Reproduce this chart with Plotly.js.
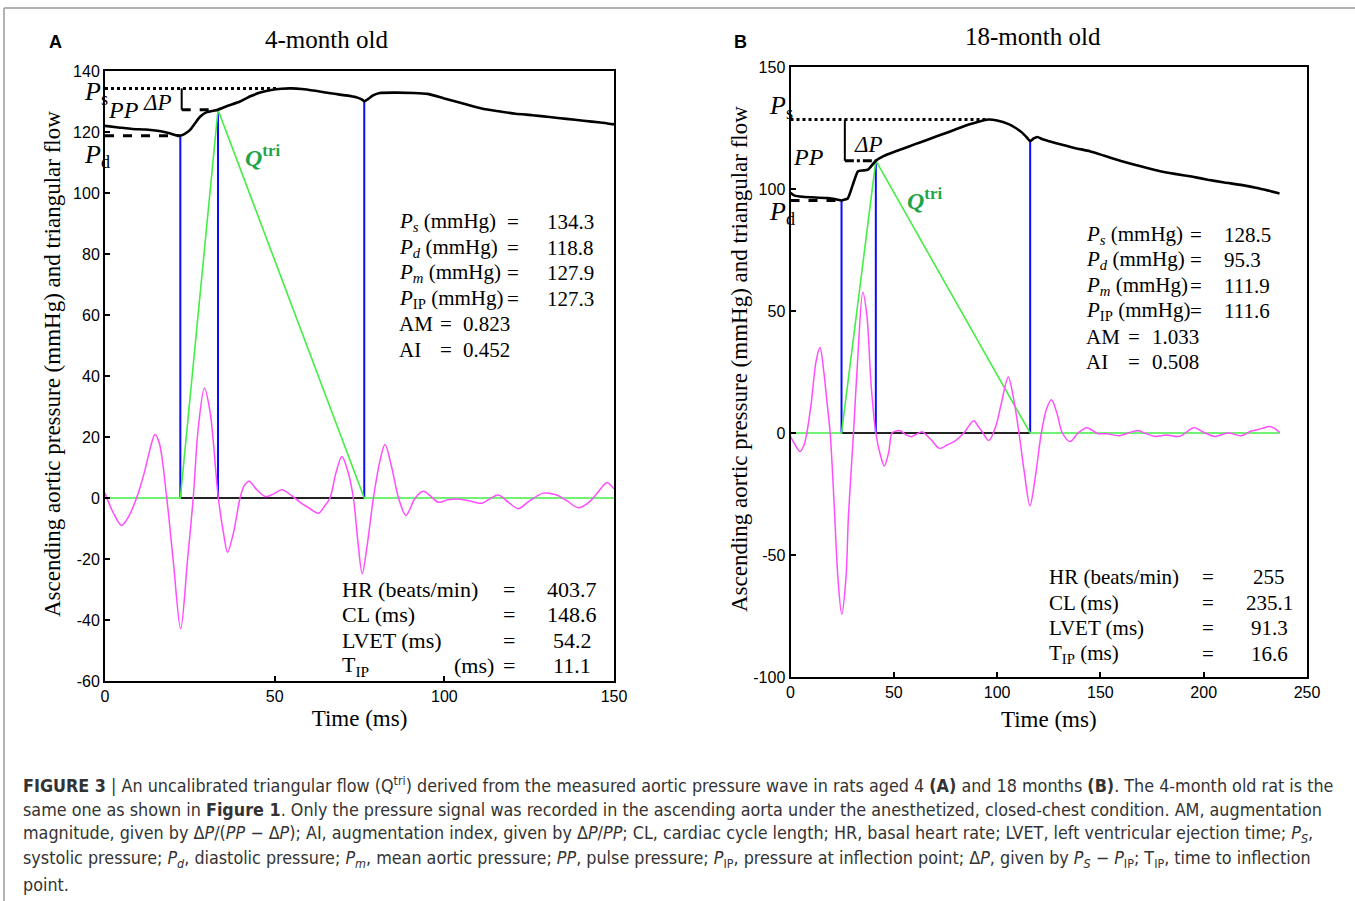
<!DOCTYPE html>
<html>
<head>
<meta charset="utf-8">
<script src="https://cdn.plot.ly/plotly-3.0.1.min.js"></script>
<style>html,body{margin:0;padding:0;background:#fff;}#chart{width:1355px;height:901px;}</style>
</head>
<body>
<div id="chart"></div>
<script>
// ---------------- DATA: Panel A (4-month old) ----------------
const timeA_pressure = [0, 4, 8, 12, 16, 19, 21, 22.2, 23.5, 25, 26.5, 28, 30, 33.3, 36, 39.8, 43, 46, 49, 52, 55, 58, 62, 67, 71, 74, 75.5, 76.5, 77.5, 79, 81, 86, 91, 95, 100, 105, 111, 116, 121, 126, 131, 136, 141, 146, 150];
const pressureA = [122.0, 121.5, 121.0, 120.8, 120.3, 119.6, 118.9, 118.8, 119.4, 120.6, 122.8, 125.0, 126.5, 127.3, 128.5, 130.0, 131.8, 133.0, 133.8, 134.2, 134.3, 134.1, 133.5, 132.6, 132.0, 131.4, 130.8, 130.1, 130.8, 132.0, 132.8, 132.9, 132.8, 132.5, 131.0, 129.5, 127.7, 126.8, 126.0, 125.5, 124.9, 124.3, 123.7, 123.1, 122.5];
const timeA_wave = [0, 2.5, 4.9, 7, 9.3, 11.5, 13.5, 14.7, 16, 18.2, 20.1, 22.3, 24.3, 26, 27.5, 29.3, 31, 33.4, 35, 36.1, 37.8, 39.8, 41, 42.5, 44.5, 47.2, 49.5, 52.1, 55, 57.5, 60, 62.9, 64.5, 66.3, 68, 69.8, 71.5, 73.2, 74.5, 75.8, 77.2, 79.1, 81, 82.5, 84.5, 86.5, 88.7, 91.4, 93.8, 96, 98.2, 101, 103.6, 107, 111, 113.5, 115.9, 119, 121.8, 125, 129.2, 133.1, 136, 139.5, 142.5, 145, 147.9, 150];
const waveA = [1.6, -5, -9.0, -6, 0, 8, 17, 20.8, 18, 0, -20.5, -42.9, -20.5, 0, 23.2, 36.1, 28, 0, -12, -17.8, -11.7, 0, 4, 5.5, 3, 0.5, 1.2, 2.7, 0.8, -1.4, -3.2, -5, -3, 0, 8, 13.6, 9, 0, -14, -24.8, -16, 0, 12, 17.5, 10, 0, -5.7, 0, 2.2, 0.6, -1.4, -0.6, -0.3, -0.8, -1.7, -0.2, 1.0, -1.5, -3.5, -1.0, 1.6, 1.0, -0.8, -3.2, -1.5, 1.5, 5.0, 3.0];
const eventTimesA = [22.2, 33.3, 76.4];       // foot, inflection point, end of ejection
const eventPressA = [118.8, 127.3, 130.1];
const PsA = 134.3, PdA = 118.8, PipA = 127.3, endA = 150;
const statLabelsA = ['<i>P<sub>s</sub></i> (mmHg)', '<i>P<sub>d</sub></i> (mmHg)', '<i>P<sub>m</sub></i> (mmHg)', '<i>P</i><sub>IP</sub> (mmHg)'];
const statValuesA = ['134.3', '118.8', '127.9', '127.3'];
const indexLabelsA = ['AM', 'AI'];
const indexValuesA = ['0.823', '0.452'];
const timeLabelsA = ['HR (beats/min)', 'CL (ms)', 'LVET (ms)', 'T<sub>IP</sub>'];
const timeValuesA = ['403.7', '148.6', '54.2', '11.1'];
const xTicksA = [0, 50, 100, 150];
const yTicksA = [-60, -40, -20, 0, 20, 40, 60, 80, 100, 120, 140];

// ---------------- DATA: Panel B (18-month old) ----------------
const timeB_pressure = [0, 2, 6, 12, 18, 22, 24.7, 26, 27.7, 30.1, 32.6, 35, 37.5, 41.3, 45, 50, 54.7, 60, 66, 71.1, 78, 85.9, 91, 95.7, 100, 105.6, 109, 112.1, 114.5, 116.0, 117.5, 119.5, 122, 125.2, 132, 138, 144.9, 152, 160, 169.5, 178, 186, 194.1, 202, 210, 218.7, 227, 236.7];
const pressureB = [98.5, 97.3, 96.8, 96.5, 96.3, 95.8, 95.3, 95.6, 96.1, 101.6, 107.2, 107.6, 107.9, 111.6, 113.5, 115.2, 116.6, 118.3, 120.1, 121.7, 123.8, 126.3, 127.6, 128.5, 128.1, 126.6, 125.0, 123.1, 121.0, 119.6, 120.6, 121.3, 120.4, 119.6, 118.0, 116.7, 115.5, 113.6, 111.5, 109.3, 107.5, 106.2, 105.1, 103.8, 102.7, 101.6, 100.2, 98.2];
const timeB_wave = [0, 2, 4.6, 6.5, 7.9, 10, 12.5, 14.3, 16, 17.5, 19.2, 21, 23, 24.8, 26.8, 28.1, 30.5, 32.5, 35.0, 37, 39, 41.3, 43.5, 45.4, 47.5, 49.1, 51, 53.2, 56, 58.5, 61, 63.7, 66, 68.2, 72.1, 76, 79.9, 83.9, 86, 88.7, 91, 92.8, 96.0, 99.3, 102, 105.4, 108, 110.6, 113, 115.9, 118.5, 121.4, 124, 126.3, 129, 131.6, 135.3, 139.2, 143.4, 148.6, 153, 159.1, 163.5, 168.1, 172, 176.5, 182, 188.3, 195.2, 200, 205.3, 211.7, 218.2, 223.1, 228, 231.9, 234.5, 236.8];
const waveB = [-1.5, -4.5, -7.6, -5, 0, 12, 30, 35, 26, 14, 0, -27, -60, -74.3, -60, -33, 0, 30, 57.7, 48, 20, 0, -9, -13.5, -8, 0, 0.8, 0.9, -0.8, -1.5, -0.5, 0.5, -1, -2.9, -6.3, -4.8, -3.1, 0, 2.5, 5.0, 2.5, 0.5, -3.1, 2.6, 12, 23.0, 14, 0, -15, -29.8, -18, 0, 10, 13.6, 8, 0, -3.5, 0, 2.2, -0.2, -0.3, -1.1, 0, 1.0, -0.2, -1.4, -0.8, -1.4, 2.2, 0.3, -1.4, 0, -1.1, 0.8, 1.8, 2.7, 1.8, 0.2];
const eventTimesB = [24.7, 41.3, 116.0];
const eventPressB = [95.3, 111.6, 119.6];
const PsB = 128.5, PdB = 95.3, PipB = 111.6, endB = 236.8;
const statLabelsB = ['<i>P<sub>s</sub></i> (mmHg)', '<i>P<sub>d</sub></i> (mmHg)', '<i>P<sub>m</sub></i> (mmHg)', '<i>P</i><sub>IP</sub> (mmHg)'];
const statValuesB = ['128.5', '95.3', '111.9', '111.6'];
const indexLabelsB = ['AM', 'AI'];
const indexValuesB = ['1.033', '0.508'];
const timeLabelsB = ['HR (beats/min)', 'CL (ms)', 'LVET (ms)', 'T<sub>IP</sub> (ms)'];
const timeValuesB = ['255', '235.1', '91.3', '16.6'];
const xTicksB = [0, 50, 100, 150, 200, 250];
const yTicksB = [-100, -50, 0, 50, 100, 150];

// ---------------- helpers ----------------
const W = 1355, H = 901;
const px = x => x / W;
const py = y => 1 - y / H;
const SERIF = '"Liberation Serif", "Times New Roman", serif';
const SANS = '"Liberation Sans", Arial, sans-serif';
const CAPFONT = '"Liberation Sans Narrow", "Arial Narrow", "DejaVu Sans Condensed", sans-serif';
const tickText = arr => arr.map(v => String(v));
const YTITLE = 'Ascending aortic pressure (mmHg) and triangular flow';

function panelTraces(xa, ya, tP, p, tW, w, evT, evP, Ps, Pd, Pip, tEnd, psEnd, dpT, pipStyle) {
  const tr = [];
  tr.push({x: [evT[0], evT[2]], y: [0, 0], xaxis: xa, yaxis: ya, mode: 'lines', line: {color: '#222', width: 2.2}, hoverinfo: 'skip'});
  const bx = [], by = [];
  evT.forEach((t, i) => { bx.push(t, t, null); by.push(0, evP[i], null); });
  tr.push({x: bx, y: by, xaxis: xa, yaxis: ya, mode: 'lines', line: {color: '#0a0aff', width: 2}, hoverinfo: 'skip'});
  tr.push({x: [0, evT[0], evT[1], evT[2], tEnd], y: [0, 0, Pip, 0, 0], xaxis: xa, yaxis: ya, mode: 'lines', line: {color: '#44ee44', width: 1.6}, hoverinfo: 'skip'});
  tr.push({x: tW, y: w, xaxis: xa, yaxis: ya, mode: 'lines', line: {color: '#ff4dff', width: 1.5, shape: 'spline', smoothing: 0.9}, hoverinfo: 'skip'});
  tr.push({x: tP, y: p, xaxis: xa, yaxis: ya, mode: 'lines', line: {color: '#000', width: 2.6, shape: 'spline', smoothing: 0.5}, hoverinfo: 'skip'});
  tr.push({x: [0, psEnd], y: [Ps, Ps], xaxis: xa, yaxis: ya, mode: 'lines', line: {color: '#000', width: 3, dash: 'dot'}, hoverinfo: 'skip'});
  tr.push({x: [0, evT[0]], y: [Pd, Pd], xaxis: xa, yaxis: ya, mode: 'lines', line: {color: '#000', width: 3, dash: 'dash'}, hoverinfo: 'skip'});
  tr.push({x: [dpT, dpT], y: [Ps, Pip], xaxis: xa, yaxis: ya, mode: 'lines', line: {color: '#000', width: 2}, hoverinfo: 'skip'});
  tr.push({x: [dpT, evT[1]], y: [Pip, Pip], xaxis: xa, yaxis: ya, mode: 'lines', line: {color: '#000', width: 3, dash: pipStyle}, hoverinfo: 'skip'});
  return tr;
}

const data = [].concat(
  panelTraces('x', 'y', timeA_pressure, pressureA, timeA_wave, waveA, eventTimesA, eventPressA, PsA, PdA, PipA, endA, 50.6, 22.6, 'dash'),
  panelTraces('x2', 'y2', timeB_pressure, pressureB, timeB_wave, waveB, eventTimesB, eventPressB, PsB, PdB, PipB, endB, 95.7, 26.3, 'dashdot')
);

function axisBase(domain, range, ticks) {
  return {
    domain: domain, range: range, showline: true, mirror: true, linecolor: '#000', linewidth: 2,
    ticks: 'inside', ticklen: 5, tickwidth: 2, tickcolor: '#000',
    tickvals: ticks, ticktext: tickText(ticks), tickfont: {family: SANS, size: 16, color: '#000'},
    showgrid: false, zeroline: false, fixedrange: true
  };
}

const layout = {
  width: W, height: H, margin: {l: 0, r: 0, t: 0, b: 0}, paper_bgcolor: '#fff', plot_bgcolor: '#fff',
  showlegend: false,
  xaxis: Object.assign(axisBase([px(105), px(614)], [0, 150], xTicksA), {anchor: 'y', title: {text: 'Time (ms)', font: {family: SERIF, size: 23, color: '#000'}, standoff: 6}}),
  yaxis: Object.assign(axisBase([py(681), py(71)], [-60, 140], yTicksA), {anchor: 'x'}),
  xaxis2: Object.assign(axisBase([px(790.5), px(1307)], [0, 250], xTicksB), {anchor: 'y2', title: {text: 'Time (ms)', font: {family: SERIF, size: 23, color: '#000'}, standoff: 11}}),
  yaxis2: Object.assign(axisBase([py(677), py(67)], [-100, 150], yTicksB), {anchor: 'x2'}),
  shapes: [
    {type: 'line', xref: 'paper', yref: 'paper', x0: px(4), x1: px(4), y0: py(8), y1: 0, line: {color: '#999', width: 1.5}},
    {type: 'line', xref: 'paper', yref: 'paper', x0: px(4), x1: 1, y0: py(8), y1: py(8), line: {color: '#999', width: 1.5}}
  ],
  annotations: []
};

const A = layout.annotations;
function ann(x, y, text, opt) {
  opt = opt || {};
  A.push({xref: 'paper', yref: 'paper', x: px(x), y: py(y), text: text, showarrow: false,
    xanchor: opt.xa || 'left', yanchor: 'middle', textangle: opt.angle || 0,
    font: {family: opt.family || SERIF, size: opt.size || 21, color: opt.color || '#000'}});
}

// panel letters, titles, y-axis titles
ann(55, 42, '<b>A</b>', {family: SANS, size: 18, xa: 'center'});
ann(740, 42, '<b>B</b>', {family: SANS, size: 18, xa: 'center'});
ann(326, 40, '4-month old', {size: 25, xa: 'center'});
ann(1033, 36, '18-month old', {size: 25, xa: 'center'});
ann(52, 364, YTITLE, {size: 23, xa: 'center', angle: -90});
ann(740, 359, YTITLE, {size: 23, xa: 'center', angle: -90});

// Panel A labels
ann(82, 93, '<i>P</i><sub>s</sub>', {size: 26});
ann(106, 110, '<i>PP</i>', {size: 24});
ann(141, 103, '<i>ΔP</i>', {size: 23});
ann(82, 156, '<i>P</i><sub>d</sub>', {size: 26});
ann(243, 156, '<b><i>Q</i><sup>tri</sup></b>', {size: 24, color: '#1ca54a'});
// Panel B labels
ann(767, 107, '<i>P</i><sub>s</sub>', {size: 26});
ann(791, 157, '<i>PP</i>', {size: 24});
ann(852, 144, '<i>ΔP</i>', {size: 23});
ann(767, 213, '<i>P</i><sub>d</sub>', {size: 26});
ann(905, 199, '<b><i>Q</i><sup>tri</sup></b>', {size: 24, color: '#1ca54a'});

// Stats A (top)
const rowA = [222, 247.6, 273.2, 298.8];
statLabelsA.forEach((s, i) => { ann(397, rowA[i], s); ann(513, rowA[i], '=', {xa: 'center'}); ann(545, rowA[i], statValuesA[i]); });
indexLabelsA.forEach((s, i) => { const y = 324.4 + 25.6 * i; ann(397, y, s); ann(446, y, '=', {xa: 'center'}); ann(461, y, indexValuesA[i]); });
// Stats A (bottom)
const rowA2 = [589, 614.5, 640, 665.5];
timeLabelsA.forEach((s, i) => { ann(340, rowA2[i], s, {size: 22}); ann(509, rowA2[i], '=', {xa: 'center', size: 22}); ann(572, rowA2[i], timeValuesA[i], {xa: 'center', size: 22}); });
ann(452, 665.5, '(ms)', {size: 22});

// Stats B (top)
const rowB = [235, 260.4, 285.8, 311.2];
statLabelsB.forEach((s, i) => { ann(1084, rowB[i], s); ann(1196, rowB[i], '=', {xa: 'center'}); ann(1222, rowB[i], statValuesB[i]); });
indexLabelsB.forEach((s, i) => { const y = 336.6 + 25.4 * i; ann(1084, y, s); ann(1134, y, '=', {xa: 'center'}); ann(1150, y, indexValuesB[i]); });
// Stats B (bottom)
const rowB2 = [577, 602.7, 628.4, 654];
timeLabelsB.forEach((s, i) => { ann(1047, rowB2[i], s); ann(1208, rowB2[i], '=', {xa: 'center'}); ann(1269, rowB2[i], timeValuesB[i], {xa: 'center'}); });

// Caption
const capLines = [
  '<b>FIGURE 3</b> | An uncalibrated triangular flow (Q<sup>tri</sup>) derived from the measured aortic pressure wave in rats aged 4 <b>(A)</b> and 18 months <b>(B)</b>. The 4-month old rat is the',
  'same one as shown in <b>Figure 1</b>. Only the pressure signal was recorded in the ascending aorta under the anesthetized, closed-chest condition. AM, augmentation',
  'magnitude, given by Δ<i>P</i>/(<i>PP</i> − Δ<i>P</i>); AI, augmentation index, given by Δ<i>P</i>/<i>PP</i>; CL, cardiac cycle length; HR, basal heart rate; LVET, left ventricular ejection time; <i>P<sub>S</sub></i>,',
  'systolic pressure; <i>P<sub>d</sub></i>, diastolic pressure; <i>P<sub>m</sub></i>, mean aortic pressure; <i>PP</i>, pulse pressure; <i>P</i><sub>IP</sub>, pressure at inflection point; Δ<i>P</i>, given by <i>P<sub>S</sub></i> − <i>P</i><sub>IP</sub>; T<sub>IP</sub>, time to inflection',
  'point.'
];
const capY = [784, 809, 834, 859, 884];
capLines.forEach((s, i) => ann(21, capY[i], s, {family: CAPFONT, size: 17.8, color: '#333'}));

Plotly.newPlot('chart', data, layout, {staticPlot: true, displayModeBar: false});
</script>
</body>
</html>
